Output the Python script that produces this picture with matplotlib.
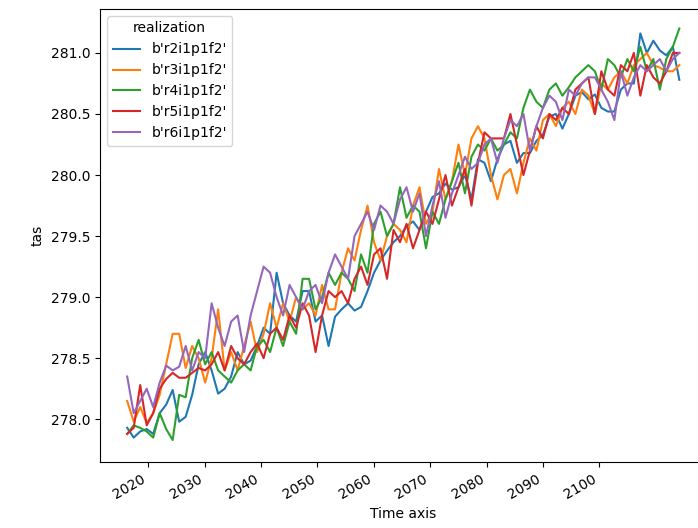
import numpy as np
import matplotlib
matplotlib.use('Agg')
import matplotlib.pyplot as plt

# time positions as they fall on the reference's axis
n_steps = 86
time = 2016.27 + 1.152 * np.arange(n_steps)

realizations = ["b'r2i1p1f2'", "b'r3i1p1f2'", "b'r4i1p1f2'", "b'r5i1p1f2'", "b'r6i1p1f2'"]

tas_r2 = [
    277.93, 277.85, 277.90, 277.92, 277.88, 278.05, 278.12, 278.24, 277.98, 278.02,
    278.20, 278.45, 278.55, 278.40, 278.21, 278.25, 278.35, 278.55, 278.45, 278.48,
    278.60, 278.75, 278.70, 279.20, 278.95, 278.85, 278.80, 279.05, 279.05, 278.80,
    278.85, 278.60, 278.84, 278.90, 278.95, 278.89, 278.92, 279.05, 279.20, 279.30,
    279.38, 279.45, 279.50, 279.58, 279.62, 279.55, 279.70, 279.82, 279.85, 279.93,
    279.88, 279.90, 280.00, 279.80, 280.13, 280.10, 279.95, 280.13, 280.25, 280.28,
    280.10, 280.18, 280.18, 280.28, 280.33, 280.48, 280.50, 280.38, 280.50, 280.65,
    280.68, 280.62, 280.66, 280.55, 280.52, 280.52, 280.70, 280.75, 280.75, 281.16,
    281.00, 281.10, 281.02, 280.98, 281.05, 280.78]
tas_r3 = [
    278.15, 277.98, 278.10, 277.97, 278.05, 278.20, 278.45, 278.70, 278.70, 278.42,
    278.60, 278.50, 278.30, 278.50, 278.90, 278.40, 278.55, 278.40, 278.60, 278.80,
    278.55, 278.70, 278.95, 278.75, 278.95, 278.80, 279.00, 278.90, 278.95, 278.85,
    279.10, 278.90, 278.90, 279.20, 279.40, 279.30, 279.55, 279.75, 279.45, 279.30,
    279.50, 279.60, 279.55, 279.45, 279.75, 279.90, 279.60, 279.70, 280.05, 279.80,
    279.95, 280.25, 280.00, 280.30, 280.40, 280.30, 280.00, 279.80, 280.00, 280.05,
    279.85, 280.10, 280.30, 280.20, 280.45, 280.50, 280.40, 280.55, 280.60, 280.50,
    280.70, 280.65, 280.50, 280.75, 280.70, 280.80, 280.85, 280.75, 280.90, 280.95,
    281.00, 280.90, 280.88, 280.85, 280.85, 280.90]
tas_r4 = [
    277.88, 277.95, 277.93, 277.90, 277.85, 278.05, 277.92, 277.83, 278.20, 278.18,
    278.50, 278.65, 278.45, 278.55, 278.40, 278.35, 278.30, 278.40, 278.45, 278.40,
    278.60, 278.65, 278.55, 278.75, 278.60, 278.80, 278.70, 279.15, 279.15, 278.90,
    279.00, 279.20, 279.10, 279.20, 279.15, 279.05, 279.35, 279.20, 279.60, 279.70,
    279.50, 279.60, 279.90, 279.65, 279.75, 279.70, 279.40, 279.70, 279.60, 279.80,
    279.95, 280.10, 279.85, 280.15, 280.25, 280.20, 280.30, 280.20, 280.25, 280.35,
    280.30, 280.55, 280.70, 280.60, 280.55, 280.70, 280.75, 280.65, 280.72, 280.80,
    280.85, 280.90, 280.85, 280.70, 280.95, 280.90, 280.80, 280.95, 280.85, 281.05,
    280.85, 280.95, 280.70, 280.95, 281.05, 281.20]
tas_r5 = [
    277.88, 277.93, 278.28, 277.95, 278.05, 278.25, 278.33, 278.38, 278.34, 278.34,
    278.38, 278.42, 278.40, 278.45, 278.55, 278.40, 278.60, 278.50, 278.45, 278.55,
    278.62, 278.50, 278.70, 278.75, 278.65, 278.85, 278.75, 278.95, 278.85, 278.55,
    278.85, 279.05, 279.00, 279.05, 278.95, 279.15, 279.25, 279.10, 279.35, 279.40,
    279.15, 279.55, 279.45, 279.60, 279.40, 279.55, 279.70, 279.60, 279.80, 280.00,
    279.75, 279.90, 280.05, 279.75, 280.10, 280.35, 280.30, 280.30, 280.30, 280.50,
    280.25, 280.00, 280.20, 280.40, 280.30, 280.50, 280.45, 280.55, 280.50, 280.70,
    280.75, 280.80, 280.50, 280.85, 280.70, 280.65, 280.90, 280.85, 281.00, 280.65,
    280.90, 280.80, 280.75, 280.85, 281.00, 281.00]
tas_r6 = [
    278.35, 278.05, 278.15, 278.25, 278.10, 278.30, 278.44, 278.40, 278.43, 278.60,
    278.40, 278.55, 278.50, 278.95, 278.75, 278.60, 278.80, 278.85, 278.55, 278.85,
    279.05, 279.25, 279.20, 279.00, 278.85, 279.10, 279.00, 278.90, 279.05, 279.10,
    278.95, 279.20, 279.35, 279.25, 279.15, 279.50, 279.60, 279.70, 279.55, 279.75,
    279.70, 279.60, 279.80, 279.90, 279.70, 279.85, 279.50, 279.75, 279.95, 279.65,
    279.85, 280.00, 280.15, 280.05, 280.10, 280.25, 280.30, 280.10, 280.30, 280.45,
    280.40, 280.50, 280.20, 280.40, 280.55, 280.65, 280.60, 280.45, 280.70, 280.65,
    280.75, 280.80, 280.80, 280.70, 280.60, 280.45, 280.85, 280.65, 280.80, 280.90,
    280.85, 280.90, 280.95, 280.85, 280.95, 281.00]

series = [tas_r2, tas_r3, tas_r4, tas_r5, tas_r6]

fig = plt.figure(figsize=(6.98, 5.28), dpi=100)
# the reference is cropped: axes run past the right edge
ax = fig.add_axes([0.1433, 0.125, 0.8696, 0.858])

for name, vals in zip(realizations, series):
    ax.plot(time, vals, label=name)

ax.set_xlim(2011.45, 2119.1)
ax.set_ylim(277.65, 281.36)
ax.set_xticks(np.arange(2020, 2101, 10))
for lab in ax.get_xticklabels():
    lab.set_rotation(30)
    lab.set_ha('right')
ax.set_xlabel('Time axis')
ax.set_ylabel('tas')
# title sits mostly above the cropped top edge, as in the reference
ax.set_title('height = 2.0 [m]', x=0.34, pad=9)
ax.legend(title='realization', loc='upper left')

fig.savefig('out.png', dpi=100)
